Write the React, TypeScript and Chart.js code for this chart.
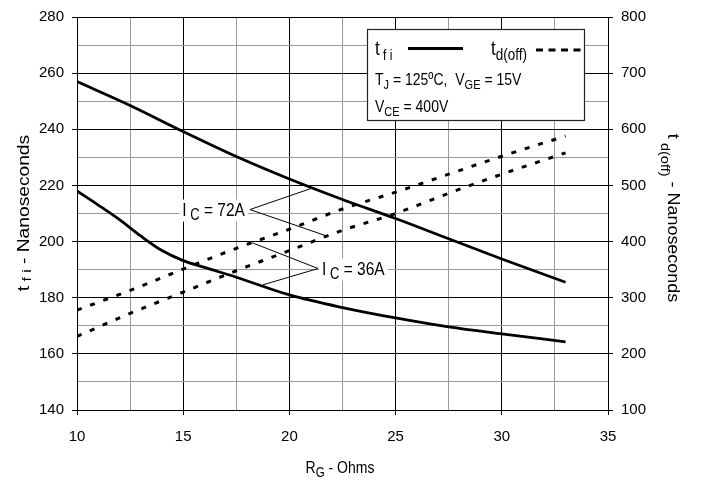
import React, { useEffect, useRef } from "react";
import { Chart, registerables } from "chart.js";
Chart.register(...registerables);

// ---- data ----
const rgTf72 = [10, 12.5, 15, 17.5, 20, 22.5, 25, 27.5, 30, 33];
const tf72 = [257, 248.5, 239.2, 230.3, 222.3, 215, 208.2, 201, 193.8, 185.5];
const rgTf36 = [10, 11, 12, 13, 14, 15, 16, 17.5, 20, 22.5, 25, 27.5, 30, 33];
const tf36 = [218, 213, 207.8, 202, 196.8, 193.2, 190.8, 187.3, 181, 176.5, 172.8, 169.6, 167.1, 164.3];
const rgTd = [10, 12.5, 15, 17.5, 20, 22.5, 25, 27.5, 30, 33];
const td36 = [278, 313, 351, 388, 422, 458, 488, 520, 552, 588];
const td72 = [231, 272, 310, 348, 384, 420, 450, 486, 520, 558];
const xTickLabels = ["10", "15", "20", "25", "30", "35"];

const FONT = '"Liberation Sans", Arial, Helvetica, sans-serif';

type Seg = { t: string; size: number; dy?: number };

function richWidth(ctx: CanvasRenderingContext2D, segs: Seg[]) {
  let w = 0;
  for (const s of segs) {
    ctx.font = `${s.size}px ${FONT}`;
    w += ctx.measureText(s.t).width;
  }
  return w;
}

function drawRich(
  ctx: CanvasRenderingContext2D,
  segs: Seg[],
  x: number,
  y: number,
  align: "left" | "center" | "right",
  rot = 0,
  sx = 1,
  sy = 1
) {
  ctx.save();
  ctx.translate(x, y);
  ctx.rotate(rot);
  ctx.scale(sx, sy);
  const w = richWidth(ctx, segs);
  let cx = align === "center" ? -w / 2 : align === "right" ? -w : 0;
  ctx.textAlign = "left";
  ctx.textBaseline = "alphabetic";
  ctx.fillStyle = "#000";
  for (const s of segs) {
    ctx.font = `${s.size}px ${FONT}`;
    ctx.fillText(s.t, cx, s.dy || 0);
    cx += ctx.measureText(s.t).width;
  }
  ctx.restore();
  return w * sx;
}

const pts = (xs: number[], ys: number[]) => xs.map((x, i) => ({ x, y: ys[i] }));

const overlay = {
  id: "overlay",
  afterDraw(chart: any) {
    const ctx: CanvasRenderingContext2D = chart.ctx;
    const sx = chart.scales.x;
    const sy = chart.scales.y;
    const px = (v: number) => sx.getPixelForValue(v);
    const py = (v: number) => sy.getPixelForValue(v);

    // axis titles
    drawRich(
      ctx,
      [{ t: "R", size: 14 }, { t: "G", size: 11.5, dy: 3.5 }, { t: " - Ohms", size: 14 }],
      340,
      473,
      "center",
      0,
      1,
      1.2
    );
    drawRich(
      ctx,
      [{ t: "t", size: 16 }, { t: " f i", size: 13, dy: 1.5 }, { t: " - Nanoseconds", size: 16 }],
      29,
      213,
      "center",
      -Math.PI / 2,
      1.2,
      1
    );
    drawRich(
      ctx,
      [{ t: "t", size: 16 }, { t: " d(off)", size: 13, dy: 7 }, { t: " - Nanoseconds", size: 16 }],
      668,
      218,
      "center",
      Math.PI / 2,
      1.12,
      1
    );

    // annotations
    ctx.save();
    ctx.strokeStyle = "#000";
    ctx.lineWidth = 1;
    const ann = [
      { o: [18.14, 211.4], ends: [[21.05, 219.0], [21.83, 201.8]], label: "72A", side: "left" },
      { o: [21.35, 190.4], ends: [[18.24, 199.6], [18.76, 184.6]], label: "36A", side: "right" },
    ];
    for (const a of ann) {
      const ox = px(a.o[0]);
      const oy = py(a.o[1]);
      const segs: Seg[] = [
        { t: "I", size: 15.5 },
        { t: " C", size: 13, dy: 3.5 },
        { t: " = " + a.label, size: 15.5 },
      ];
      const w = richWidth(ctx, segs);
      const tx = a.side === "left" ? ox - 5 - w : ox + 4;
      ctx.fillStyle = "#fff";
      ctx.fillRect(tx - 3, oy - 10, w + 6, 22);
      drawRich(ctx, segs, tx, oy + 6, "left", 0, 1, 1.2);
      ctx.beginPath();
      for (const e of a.ends) {
        ctx.moveTo(ox, oy);
        ctx.lineTo(px(e[0]), py(e[1]));
      }
      ctx.stroke();
    }
    ctx.restore();

    // legend box
    ctx.save();
    ctx.fillStyle = "#fff";
    ctx.fillRect(367, 29, 218, 92);
    ctx.strokeStyle = "#222";
    ctx.lineWidth = 1.2;
    ctx.strokeRect(367.5, 29.5, 217, 91);
    drawRich(ctx, [{ t: "t", size: 17 }, { t: " f i", size: 12, dy: 4 }], 375, 55, "left", 0, 1, 1.2);
    ctx.strokeStyle = "#000";
    ctx.lineWidth = 3;
    ctx.beginPath();
    ctx.moveTo(408, 48.5);
    ctx.lineTo(463, 48.5);
    ctx.stroke();
    drawRich(ctx, [{ t: "t", size: 17 }, { t: "d(off)", size: 13.5, dy: 4 }], 491, 55, "left", 0, 1, 1.2);
    ctx.setLineDash([7, 5.5]);
    ctx.beginPath();
    ctx.moveTo(536, 50);
    ctx.lineTo(581, 50);
    ctx.stroke();
    ctx.setLineDash([]);
    drawRich(
      ctx,
      [
        { t: "T", size: 14 },
        { t: "J", size: 11, dy: 3.5 },
        { t: " = 125ºC,  V", size: 14 },
        { t: "GE", size: 11, dy: 3.5 },
        { t: " = 15V", size: 14 },
      ],
      375,
      85,
      "left",
      0,
      1,
      1.2
    );
    drawRich(
      ctx,
      [{ t: "V", size: 14 }, { t: "CE", size: 11, dy: 3.5 }, { t: " = 400V", size: 14 }],
      375,
      112,
      "left",
      0,
      1,
      1.2
    );
    ctx.restore();
  },
};

export default function App() {
  const ref = useRef<HTMLCanvasElement | null>(null);
  useEffect(() => {
    const canvas = ref.current;
    if (!canvas) return;
    const solid = { borderColor: "#000", borderWidth: 2.8, pointRadius: 0, fill: false, cubicInterpolationMode: "monotone" as const };
    const dashed = { ...solid, borderDash: [5, 9], borderWidth: 3 };
    const chart = new Chart(canvas, {
      type: "line",
      data: {
        datasets: [
          { label: "tfi 72A", data: pts(rgTf72, tf72), yAxisID: "y", ...solid },
          { label: "tfi 36A", data: pts(rgTf36, tf36), yAxisID: "y", ...solid },
          { label: "td(off) 36A", data: pts(rgTd, td36), yAxisID: "y2", ...dashed },
          { label: "td(off) 72A", data: pts(rgTd, td72), yAxisID: "y2", ...dashed },
        ],
      },
      options: {
        responsive: false,
        animation: false,
        events: [],
        layout: { padding: { top: 10, left: 0, right: 0, bottom: 0 }, autoPadding: false } as any,
        plugins: { legend: { display: false }, tooltip: { enabled: false } },
        scales: {
          x: {
            type: "linear",
            min: 10,
            max: 35,
            ticks: {
              stepSize: 2.5,
              padding: 13,
              maxRotation: 0,
              autoSkip: false,
              color: "#000",
              font: { family: FONT, size: 15 },
              callback: (v: any) => (Number(v) % 5 === 0 ? xTickLabels[(Number(v) - 10) / 5] : ""),
            },
            grid: {
              color: (c: any) => (c.tick && c.tick.value % 5 === 0 ? "#000" : "#9a9a9a"),
              tickColor: (c: any) => (c.tick && c.tick.value % 5 === 0 ? "#000" : "rgba(0,0,0,0)"),
              tickLength: 5,
              lineWidth: 1,
            },
            border: { display: true, color: "#000", width: 1 },
            afterFit: (s: any) => {
              s.height = 73;
            },
          },
          y: {
            type: "linear",
            position: "left",
            min: 140,
            max: 280,
            ticks: {
              stepSize: 10,
              padding: 8,
              autoSkip: false,
              color: "#000",
              font: { family: FONT, size: 15 },
              callback: (v: any) => (Number(v) % 20 === 0 ? String(v) : ""),
            },
            grid: {
              color: (c: any) => (c.tick && c.tick.value % 20 === 0 ? "#000" : "#9a9a9a"),
              tickColor: (c: any) => (c.tick && c.tick.value % 20 === 0 ? "#000" : "rgba(0,0,0,0)"),
              tickLength: 5,
              lineWidth: 1,
            },
            border: { display: true, color: "#000", width: 1 },
            afterFit: (s: any) => {
              s.width = 77;
            },
          },
          y2: {
            type: "linear",
            position: "right",
            min: 100,
            max: 800,
            ticks: {
              stepSize: 100,
              padding: 8,
              color: "#000",
              font: { family: FONT, size: 15 },
            },
            grid: { drawOnChartArea: false, tickColor: "#000", tickLength: 5 },
            border: { display: true, color: "#000", width: 1 },
            afterFit: (s: any) => {
              s.width = 97;
            },
          },
        },
      },
      plugins: [overlay],
    } as any);
    return () => chart.destroy();
  }, []);
  return (
    <div style={{ position: "absolute", left: 0, top: 0, width: 705, height: 483, background: "#fff" }}>
      <canvas ref={ref} width={705} height={483} style={{ display: "block", width: 705, height: 483 }} />
    </div>
  );
}
